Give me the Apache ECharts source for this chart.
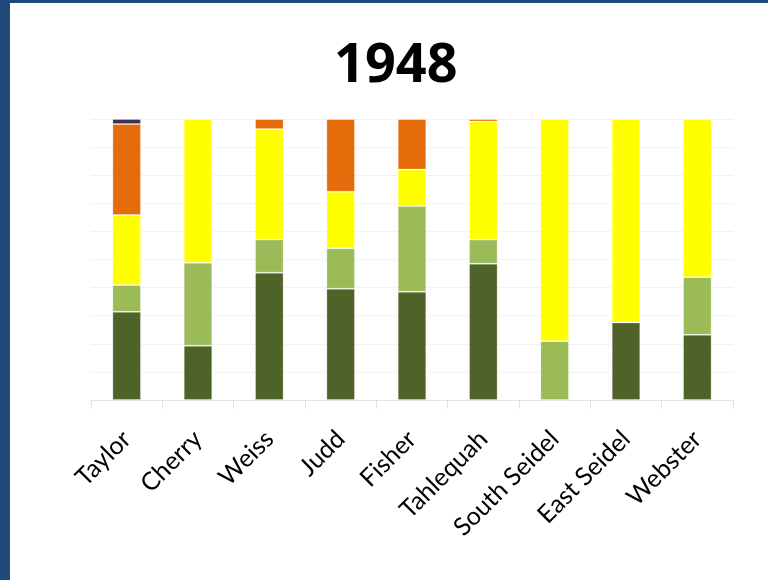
<!DOCTYPE html>
<html>
<head>
<meta charset="utf-8">
<script src="https://cdn.jsdelivr.net/npm/echarts@6/dist/echarts.min.js"></script>
<style>
  html, body { margin: 0; padding: 0; background: #fff; }
  #wrap { position: relative; width: 768px; height: 580px; overflow: hidden; }
  #chart { position: absolute; left: 0; top: 0; width: 768px; height: 580px; }
  .edge { position: absolute; background: #1f497d; }
</style>
</head>
<body>
<div id="wrap">
  <div id="chart"></div>
  <div class="edge" style="left:0;top:0;width:10px;height:580px;"></div>
  <div class="edge" style="left:0;top:0;width:768px;height:3px;"></div>
</div>
<script>
// Sites along the x axis
const categories = ['Taylor', 'Cherry', 'Weiss', 'Judd', 'Fisher', 'Tahlequah', 'South Seidel', 'East Seidel', 'Webster'];

// Share of each class per site (percent), stacked bottom to top
const class1 = [31.4, 19.3, 45.3, 39.6, 38.5, 48.5, 0, 27.6, 23.2];
const class2 = [9.5, 29.5, 11.8, 14.4, 30.5, 8.6, 20.9, 0, 20.5];
const class3 = [24.9, 51.2, 39.3, 20.1, 13.0, 42.0, 79.1, 72.4, 56.3];
const class4 = [32.4, 0, 3.6, 25.9, 18.0, 0.9, 0, 0, 0];
const class5 = [1.8, 0, 0, 0, 0, 0, 0, 0, 0];

const chartTitle = '1948';

const layers = [
  { name: 'Class 1', data: class1, color: '#4f6228' },
  { name: 'Class 2', data: class2, color: '#9bbb59' },
  { name: 'Class 3', data: class3, color: '#ffff00' },
  { name: 'Class 4', data: class4, color: '#e46c0a' },
  { name: 'Class 5', data: class5, color: '#3f3151' }
];

const chart = echarts.init(document.getElementById('chart'), null, { renderer: 'canvas' });

chart.setOption({
  backgroundColor: '#ffffff',
  animation: false,
  title: {
    text: chartTitle,
    left: 334,
    top: 40,
    padding: 0,
    textStyle: {
      fontFamily: 'Noto Sans',
      fontWeight: 'bold',
      fontSize: 54,
      color: '#000000'
    }
  },
  grid: { left: 91, right: 35, top: 119, bottom: 180, containLabel: false },
  xAxis: {
    type: 'category',
    data: categories,
    boundaryGap: true,
    axisLine: { show: true, lineStyle: { color: '#e3e3e3', width: 1 } },
    axisTick: { show: true, alignWithLabel: false, length: 9, lineStyle: { color: '#e3e3e3' } },
    axisLabel: {
      rotate: 45,
      interval: 0,
      margin: 35,
      fontFamily: 'Lato',
      fontSize: 25,
      color: '#000000'
    },
    splitLine: { show: false }
  },
  yAxis: {
    type: 'value',
    min: 0,
    max: 100,
    interval: 10,
    axisLine: { show: false },
    axisTick: { show: false },
    axisLabel: { show: false },
    splitLine: { show: true, lineStyle: { color: '#f3f3f3', width: 1 } }
  },
  series: layers.map(l => ({
    name: l.name,
    type: 'bar',
    stack: 'total',
    barWidth: '40%',
    data: l.data,
    itemStyle: { color: l.color, borderColor: 'rgba(255,255,255,0.25)', borderWidth: 1 }
  }))
});
</script>
</body>
</html>
